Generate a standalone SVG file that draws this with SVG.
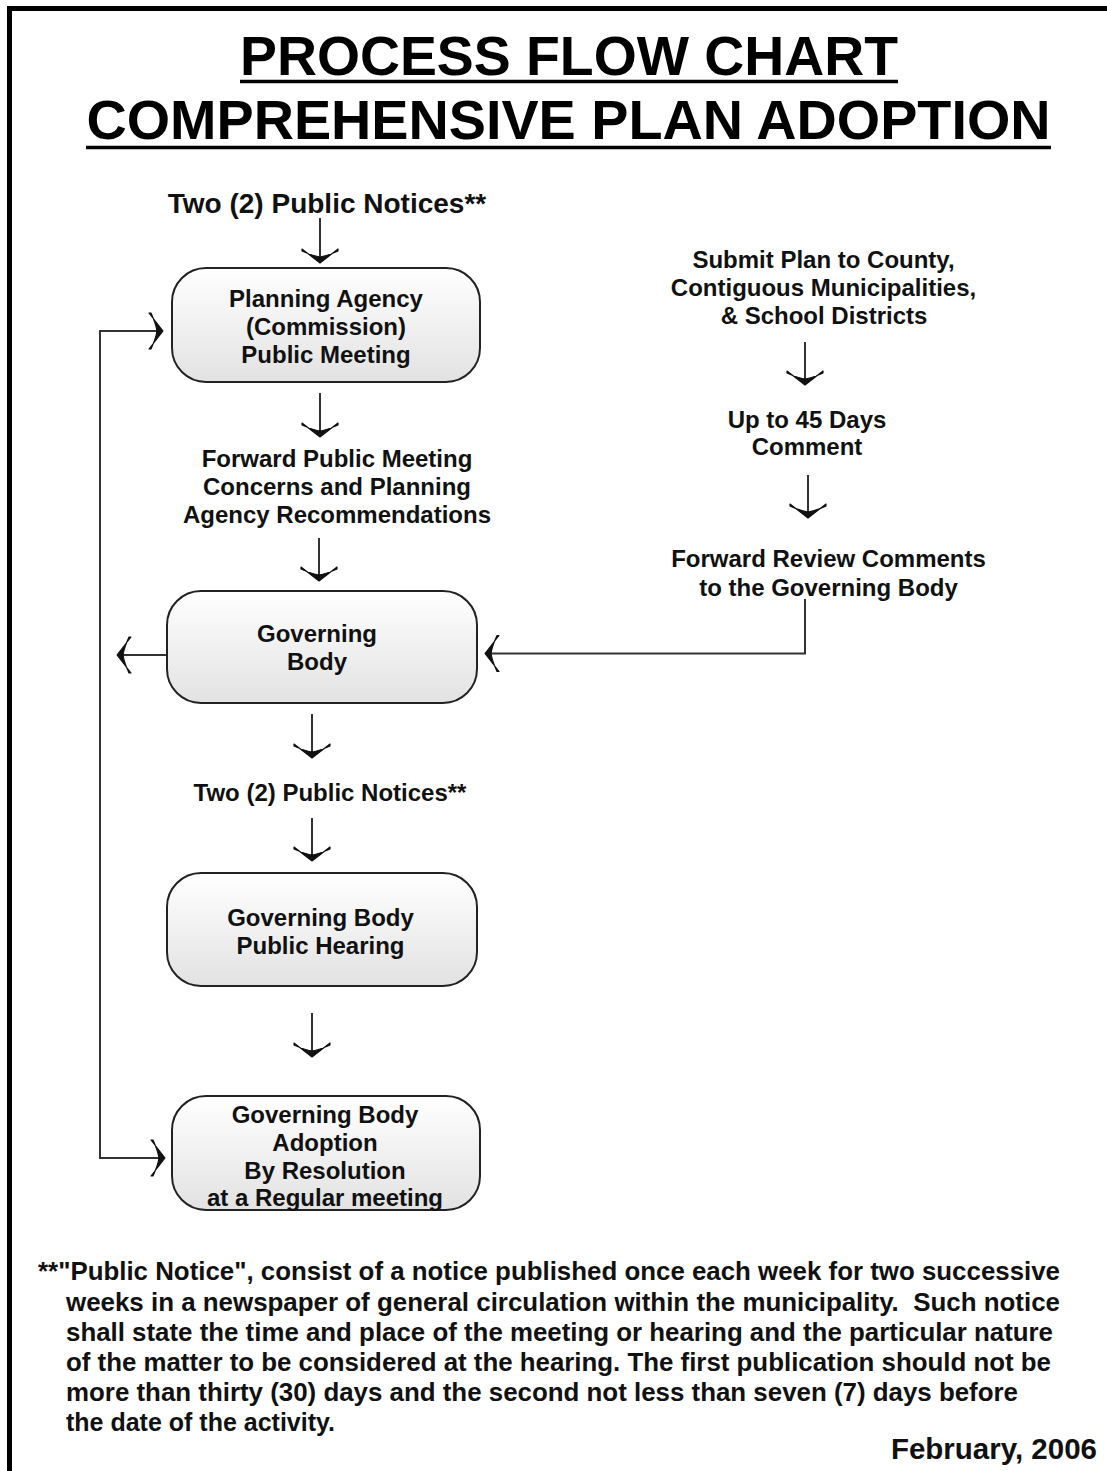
<svg xmlns="http://www.w3.org/2000/svg" width="1107" height="1471" viewBox="0 0 1107 1471">
<defs>
<linearGradient id="boxfill" x1="0" y1="0" x2="0" y2="1">
<stop offset="0" stop-color="#ffffff"/>
<stop offset="1" stop-color="#e2e2e2"/>
</linearGradient>
<marker id="ah" markerUnits="userSpaceOnUse" markerWidth="40" markerHeight="40" viewBox="-20 -20 40 40" refX="0" refY="0" orient="auto" overflow="visible">
<path d="M1,0 L-13,-18 L-11,-18 Q-6,-7 -5,0 Q-6,7 -11,18 L-13,18 Z" fill="#111" stroke="#111" stroke-width="1.2" stroke-linejoin="round"/>
</marker>
<style>
.t{font-family:"Liberation Sans",Arial,sans-serif;font-weight:bold;fill:#111;}
.title{font-size:56px;text-anchor:middle;fill:#000;}
.lbl{font-size:24px;text-anchor:middle;}
.foot{font-size:25px;}
.box{fill:url(#boxfill);stroke:#222;stroke-width:2;}
.c{fill:none;stroke:#333;stroke-width:2;marker-end:url(#ah);}
</style>
</defs>
<rect x="9.5" y="8.5" width="1200" height="1600" fill="#fff" stroke="#000" stroke-width="5"/>

<g id="title">
<text class="t title" x="569" y="75" textLength="658" lengthAdjust="spacingAndGlyphs">PROCESS FLOW CHART</text>
<line x1="240" y1="81.5" x2="898" y2="81.5" stroke="#000" stroke-width="3.5"/>
<text class="t title" x="568.5" y="139" textLength="964" lengthAdjust="spacingAndGlyphs">COMPREHENSIVE PLAN ADOPTION</text>
<line x1="86" y1="147.5" x2="1051" y2="147.5" stroke="#000" stroke-width="3.5"/>
</g>

<g id="connectors">
<line class="c" x1="320" y1="218" x2="320" y2="262"/>
<line class="c" x1="320" y1="393" x2="320" y2="436"/>
<line class="c" x1="319" y1="538" x2="319" y2="580"/>
<line class="c" x1="312" y1="714" x2="312" y2="757"/>
<line class="c" x1="312" y1="818" x2="312" y2="860"/>
<line class="c" x1="312" y1="1013" x2="312" y2="1056"/>
<line class="c" x1="805" y1="342" x2="805" y2="384"/>
<line class="c" x1="808" y1="475" x2="808" y2="517"/>
<polyline class="c" points="805,599 805,653.5 486,653.5"/>
<line class="c" x1="167" y1="655" x2="118" y2="655"/>
<polyline class="c" points="100,600 100,331 162,331"/>
<polyline class="c" points="100,600 100,1158 164,1158"/>
</g>

<g id="node-notices1">
<text class="t" x="327" y="213" font-size="28" text-anchor="middle">Two (2) Public Notices**</text>
</g>

<g id="node-planning">
<rect class="box" x="172" y="268" width="308" height="114" rx="34"/>
<text class="t lbl" x="326" y="306.5">Planning Agency</text>
<text class="t lbl" x="326" y="334.5">(Commission)</text>
<text class="t lbl" x="326" y="362.5">Public Meeting</text>
</g>

<g id="node-forward">
<text class="t lbl" x="337" y="466.5">Forward Public Meeting</text>
<text class="t lbl" x="337" y="494.5">Concerns and Planning</text>
<text class="t lbl" x="337" y="522.5">Agency Recommendations</text>
</g>

<g id="node-governing">
<rect class="box" x="167" y="591" width="310" height="112" rx="34"/>
<text class="t lbl" x="317" y="641.5">Governing</text>
<text class="t lbl" x="317" y="669.5">Body</text>
</g>

<g id="node-notices2">
<text class="t lbl" x="330" y="800.5">Two (2) Public Notices**</text>
</g>

<g id="node-hearing">
<rect class="box" x="167" y="873" width="310" height="113" rx="34"/>
<text class="t lbl" x="320.5" y="925.5">Governing Body</text>
<text class="t lbl" x="320.5" y="953.5">Public Hearing</text>
</g>

<g id="node-adoption">
<rect class="box" x="172" y="1096" width="308" height="114" rx="34"/>
<text class="t lbl" x="325" y="1122.5">Governing Body</text>
<text class="t lbl" x="325" y="1150.5">Adoption</text>
<text class="t lbl" x="325" y="1178.5">By Resolution</text>
<text class="t lbl" x="325" y="1205.5">at a Regular meeting</text>
</g>

<g id="node-submit">
<text class="t lbl" x="823.5" y="267.5">Submit Plan to County,</text>
<text class="t lbl" x="823.5" y="295.5">Contiguous Municipalities,</text>
<text class="t lbl" x="824" y="323.5">&amp; School Districts</text>
</g>

<g id="node-comment">
<text class="t lbl" x="807" y="427.5">Up to 45 Days</text>
<text class="t lbl" x="807" y="454.5">Comment</text>
</g>

<g id="node-review">
<text class="t lbl" x="828.5" y="566.5">Forward Review Comments</text>
<text class="t lbl" x="828.5" y="595.5">to the Governing Body</text>
</g>

<g id="footnote">
<text class="t foot" x="38" y="1280" textLength="1022" lengthAdjust="spacingAndGlyphs">**"Public Notice", consist of a notice published once each week for two successive</text>
<text class="t foot" x="66" y="1311" textLength="994" lengthAdjust="spacingAndGlyphs" xml:space="preserve">weeks in a newspaper of general circulation within the municipality.  Such notice</text>
<text class="t foot" x="66" y="1341" textLength="987" lengthAdjust="spacingAndGlyphs">shall state the time and place of the meeting or hearing and the particular nature</text>
<text class="t foot" x="66" y="1371" textLength="985" lengthAdjust="spacingAndGlyphs">of the matter to be considered at the hearing. The first publication should not be</text>
<text class="t foot" x="66" y="1401" textLength="952" lengthAdjust="spacingAndGlyphs">more than thirty (30) days and the second not less than seven (7) days before</text>
<text class="t foot" x="66" y="1431">the date of the activity.</text>
<text class="t" x="1097" y="1459" font-size="29.5" text-anchor="end">February, 2006</text>
</g>
</svg>
